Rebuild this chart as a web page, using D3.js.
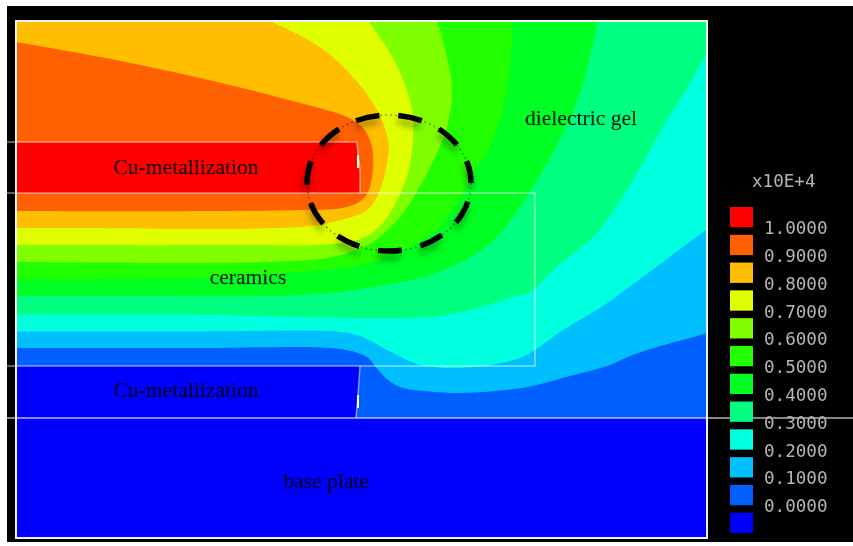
<!DOCTYPE html>
<html>
<head>
<meta charset="utf-8">
<script src="https://cdn.jsdelivr.net/npm/d3@7"></script>
<style>
  html, body { margin: 0; padding: 0; background: #fff; }
  svg { display: block; }
  .region-label { font-family: "Liberation Serif", serif; font-size: 21.6px; fill: #000; fill-opacity: 0.85; text-anchor: middle; stroke: #000; stroke-width: 0.25; stroke-opacity: 0.5; }
  .legend-text { font-family: "DejaVu Sans Mono", monospace; font-size: 17.6px; fill: #b4b4b4; }
</style>
</head>
<body>
<div id="chart"></div>
<script>
// band colours, lowest to highest
const bandColors = ['#0000ff', '#0060ff', '#00bfff', '#00ffdf', '#00ff80', '#00ff20',
  '#20ff00', '#80ff00', '#dfff00', '#ffbf00', '#ff6000', '#ff0000'];
const legendValues = [1, 0.9, 0.8, 0.7, 0.6, 0.5, 0.4, 0.3, 0.2, 0.1, 0];
const legendTitle = 'x10E+4';

// model extent, mm
const modelWidth = 69.1;
const modelHeight = 51.7;

// contour boundaries [x, y] in mm
// the first four run left edge -> right edge, the rest top edge -> left edge
const contour01 = [[0,17.2],[34.4,17.2],[34.2,14.3],[34,12],[69.1,12]];
const contour02 = [[0,19],[18.4,19],[32.4,18.9],[35.1,18.1],[35.9,17.2],[37.1,15.9],[38.4,15.1],[41.4,14.65],[44.4,14.5],[48.4,14.75],[51.4,15.15],[55.4,16.2],[59.4,17.3],[61.4,18.2],[64.1,19.1],[67.4,20],[69.1,20.5]];
const contour03 = [[0,20.65],[18.4,20.65],[31.9,20.65],[34.4,20.2],[37.1,18.8],[40.1,17.4],[41.4,17.15],[43.7,17],[47.4,17.3],[50.4,18],[51.9,18.8],[54.7,20.8],[58.4,23],[62.4,25.9],[69.1,30.9]];
const contour04 = [[0,22.3],[18.4,22.3],[41.4,22.1],[45.4,22.8],[49.4,24],[51.7,24.8],[53.7,26.8],[58.1,30.5],[62.1,36.5],[64.7,41.1],[67.4,45.5],[69.1,48.6]];
const contour05 = [[58.2,51.7],[57.7,49.5],[56.4,44.5],[54.7,40.5],[51.7,35.1],[48.7,30.8],[46.1,28.5],[41.4,26.3],[35.1,25],[28.4,24.3],[13.4,24.2],[0,24.2]];
const contour06 = [[49.6,51.7],[49.6,50.5],[49.4,47.1],[48.6,42.5],[47.4,39.1],[45.7,36.5],[44.7,34.5],[42.4,31.1],[39.4,29.1],[35.4,27.5],[28.4,26.6],[18.4,26],[0,25.9]];
const contour07 = [[42.1,51.7],[43.1,48.1],[43.6,44.8],[43.1,41.1],[42.1,38.5],[39.9,34.3],[38.7,32.5],[36.4,30.1],[34.7,29.1],[31.7,28.1],[25.1,27.6],[0,27.6]];
const contour08 = [[35.2,51.7],[37.4,48.5],[39.1,44.8],[39.7,42.1],[39.7,39.8],[39.2,36.5],[38.1,33.8],[36.7,31.5],[34.7,30],[31.7,29.4],[21.7,29.3],[0,29.3]];
const contour09 = [[25.4,51.7],[30.4,49.1],[33.7,46.1],[36.1,42.8],[37.2,39.8],[37.2,38.1],[36.4,34.8],[35.1,32.8],[31.7,31.6],[28.4,31.1],[3.4,31],[0,31]];
const contour10 = [[0,49.6],[8.4,48.1],[18.4,46],[28.4,43.5],[33.1,42.1],[34.7,41],[35.6,39.1],[35.6,36.1],[34.9,34.1],[33.1,33.1],[28.4,32.8],[0,32.7]];
const contour11 = [[0,39.6],[34.1,39.6],[34.2,38.3],[34.4,36.8],[34.4,34.5],[0,34.5]];

// layer outlines in mm
const layerLines = [
  [[-0.9,39.6],[34.1,39.6],[34.2,38.3]],
  [[-0.9,34.5],[51.9,34.5],[51.9,17.2],[-0.9,17.2]],
  [[-0.9,12],[83.7,12]],
  [[34.4,34.5],[34.4,36.8],[34.2,38.3]],
  [[34.4,17.2],[34.2,14.3],[34,12]]
];
// short bright slivers on the metal edge
const edgeSlivers = [
  [[34.2,38.3],[34.2,37]],
  [[34.2,14.3],[34.2,13]]
];

const regionLabels = ['Cu-metallization', 'ceramics', 'dielectric gel', 'Cu-metallization', 'base plate'];
const regionX = [17, 23.2, 56.5, 17, 31];
const regionY = [36.4, 25.4, 41.3, 14.1, 5];

// highlighted zone: centre and radii in mm
const zoneCentre = [37.3, 35.5];
const zoneRadii = [8.2, 6.8];

const width = 853, height = 546;

const svg = d3.select('#chart').append('svg')
  .attr('width', width)
  .attr('height', height);

const defs = svg.append('defs');
defs.append('filter').attr('id', 'soft')
  .append('feGaussianBlur').attr('stdDeviation', 0.7);
defs.append('filter').attr('id', 'softer')
  .append('feGaussianBlur').attr('stdDeviation', 0.6);
defs.append('filter').attr('id', 'shadow')
  .attr('x', '-20%').attr('y', '-20%').attr('width', '140%').attr('height', '140%')
  .append('feGaussianBlur').attr('stdDeviation', 3.5);

svg.append('rect')
  .attr('x', 7).attr('y', 6)
  .attr('width', width - 7).attr('height', 536)
  .attr('fill', '#000');

const x = d3.scaleLinear().domain([0, modelWidth]).range([16, 707]);
const y = d3.scaleLinear().domain([0, modelHeight]).range([538, 21]);

const smooth = d3.line().x(d => x(d[0])).y(d => y(d[1])).curve(d3.curveCatmullRom.alpha(0.5));
const straight = d3.line().x(d => x(d[0])).y(d => y(d[1]));

const topLeft = 'L' + x(0) + ',' + y(modelHeight);
const topRight = 'L' + x(modelWidth) + ',' + y(modelHeight);

const plot = svg.append('g').attr('filter', 'url(#soft)');

plot.append('rect')
  .attr('x', x(0)).attr('y', y(modelHeight))
  .attr('width', x(modelWidth) - x(0)).attr('height', y(0) - y(modelHeight))
  .attr('fill', bandColors[0]);

// paint bands from low to high, each one covers everything above its contour
const contours = [contour01, contour02, contour03, contour04, contour05, contour06,
  contour07, contour08, contour09, contour10, contour11];

plot.selectAll('.band')
  .data(contours)
  .enter().append('path')
  .attr('class', 'band')
  .attr('fill', (d, i) => bandColors[i + 1])
  .attr('d', (d, i) => {
    if (i === 0) return straight(d) + topRight + topLeft + 'Z';
    if (i < 4) return smooth(d) + topRight + topLeft + 'Z';
    if (i === 10) return straight(d) + 'Z';
    return smooth(d) + topLeft + 'Z';
  });

// layer outlines
plot.selectAll('.layer')
  .data(layerLines)
  .enter().append('path')
  .attr('class', 'layer')
  .attr('fill', 'none')
  .attr('stroke', '#fff')
  .attr('stroke-width', 1.5)
  .attr('stroke-opacity', (d, i) => i === 2 ? 0.7 : 0.5)
  .attr('d', straight);

plot.selectAll('.sliver')
  .data(edgeSlivers)
  .enter().append('path')
  .attr('class', 'sliver')
  .attr('fill', 'none')
  .attr('stroke', '#fff')
  .attr('stroke-width', 2)
  .attr('d', straight);

// frame
plot.append('rect')
  .attr('x', x(0)).attr('y', y(modelHeight))
  .attr('width', x(modelWidth) - x(0)).attr('height', y(0) - y(modelHeight))
  .attr('fill', 'none')
  .attr('stroke', '#f0f0f0')
  .attr('stroke-width', 2);

svg.append('g').attr('filter', 'url(#softer)')
  .selectAll('text')
  .data(regionLabels)
  .enter().append('text')
  .attr('class', 'region-label')
  .attr('x', (d, i) => x(regionX[i]))
  .attr('y', (d, i) => y(regionY[i]))
  .text(d => d);

// dashed zone marker, with the soft shadow underneath
const zone = svg.append('g');
const zoneAttrs = sel => sel
  .attr('cx', x(zoneCentre[0]))
  .attr('cy', y(zoneCentre[1]))
  .attr('rx', x(zoneRadii[0]) - x(0))
  .attr('ry', y(0) - y(zoneRadii[1]))
  .attr('fill', 'none')
  .attr('stroke', '#000');

zone.append('ellipse').call(zoneAttrs)
  .attr('transform', 'translate(-1,6)')
  .attr('stroke-width', 5)
  .attr('stroke-dasharray', '24 19')
  .attr('stroke-dashoffset', 24)
  .attr('stroke-opacity', 0.4)
  .attr('filter', 'url(#shadow)');
zone.append('ellipse').call(zoneAttrs)
  .attr('stroke-width', 1.5)
  .attr('stroke-dasharray', '1.5 3.5')
  .attr('stroke-opacity', 0.45);
zone.append('ellipse').call(zoneAttrs)
  .attr('stroke-width', 5.5)
  .attr('stroke-dasharray', '24 19')
  .attr('stroke-dashoffset', 24);

// legend
const legendBand = d3.scaleBand()
  .domain(d3.range(bandColors.length))
  .range([207, 533])
  .paddingInner(0.27);

const legend = svg.append('g').attr('filter', 'url(#softer)');

legend.selectAll('rect')
  .data(bandColors.slice().reverse())
  .enter().append('rect')
  .attr('x', 730)
  .attr('y', (d, i) => legendBand(i))
  .attr('width', 23)
  .attr('height', legendBand.bandwidth())
  .attr('fill', d => d);

const legendScale = d3.scaleLinear().domain([0, 1]).range([506, 228]);

const legendAxis = legend.append('g')
  .attr('transform', 'translate(764,0)')
  .call(d3.axisRight(legendScale)
    .tickValues(legendValues)
    .tickFormat(d3.format('.4f'))
    .tickSize(0)
    .tickPadding(0));
legendAxis.select('.domain').remove();
legendAxis.selectAll('text').attr('class', 'legend-text').attr('fill', null);
legendAxis.attr('font-size', null).attr('font-family', null);

legend.append('text')
  .attr('class', 'legend-text')
  .attr('x', 752)
  .attr('y', 187)
  .text(legendTitle);
</script>
</body>
</html>
